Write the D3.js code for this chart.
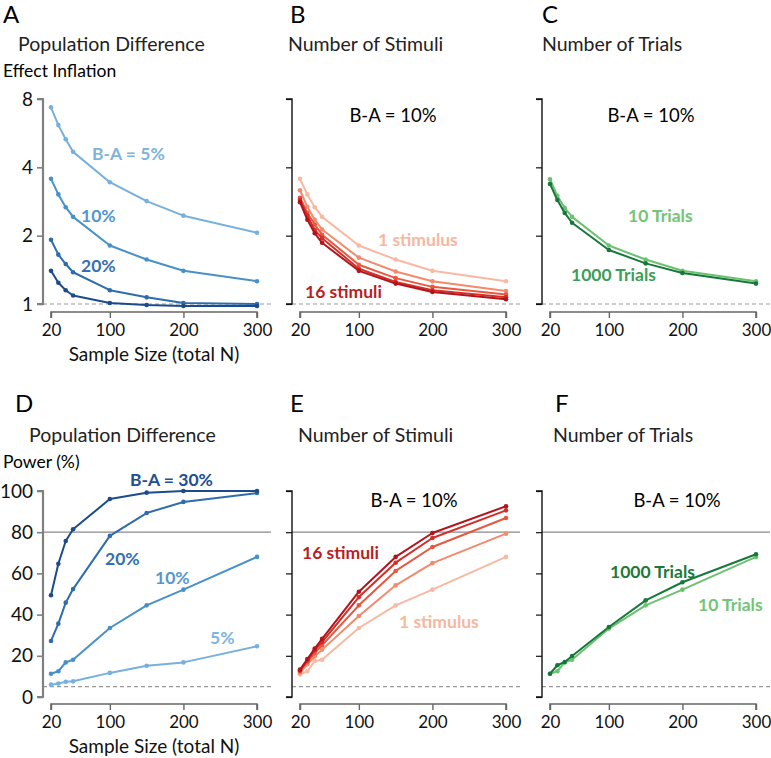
<!DOCTYPE html>
<html>
<head>
<meta charset="utf-8">
<script src="https://cdn.jsdelivr.net/npm/d3@7/dist/d3.min.js"></script>
<style>
  html, body { margin: 0; padding: 0; background: #fff; }
  svg { display: block; font-family: "Lato", "Open Sans", sans-serif; }
</style>
</head>
<body>
<svg id="chart" width="771" height="758"></svg>
<script>
// ---------------- DATA ----------------
const sampleN = [20, 30, 40, 50, 100, 150, 200, 300];
const xTicks = [20, 100, 200, 300];
const inflTicks = [1, 2, 4, 8];
const powerTicks = [0, 20, 40, 60, 80, 100];

// Effect inflation (row 1)
const inflPop5  = [7.35, 6.14, 5.32, 4.68, 3.44, 2.84, 2.45, 2.06];
const inflPop10 = [3.56, 3.04, 2.67, 2.42, 1.81, 1.57, 1.40, 1.26];
const inflPop20 = [1.92, 1.65, 1.50, 1.38, 1.15, 1.07, 1.01, 1.00];
const inflPop30 = [1.40, 1.24, 1.15, 1.09, 1.01, 0.99, 0.98, 0.98];

const inflStim1  = [3.56, 3.04, 2.67, 2.42, 1.81, 1.57, 1.40, 1.26];
const inflStim2  = [3.17, 2.68, 2.35, 2.13, 1.60, 1.39, 1.26, 1.14];
const inflStim4  = [2.94, 2.52, 2.24, 2.02, 1.49, 1.30, 1.19, 1.10];
const inflStim8  = [2.88, 2.45, 2.12, 1.95, 1.43, 1.25, 1.15, 1.07];
const inflStim16 = [2.81, 2.35, 2.05, 1.86, 1.40, 1.23, 1.13, 1.05];

const inflTrials10   = [3.54, 3.00, 2.65, 2.42, 1.81, 1.57, 1.40, 1.26];
const inflTrials1000 = [3.38, 2.87, 2.52, 2.28, 1.73, 1.51, 1.37, 1.23];

// Power (row 2)
const powerPop30 = [49.4, 64.7, 75.7, 81.4, 96.1, 99.2, 100, 100];
const powerPop20 = [27.2, 35.6, 45.8, 52.4, 78.2, 89.3, 94.7, 99.0];
const powerPop10 = [11.3, 12.5, 16.8, 18.1, 33.5, 44.5, 52.1, 68.0];
const powerPop5  = [6.0, 6.5, 7.4, 7.6, 11.7, 15.2, 16.8, 24.6];

const powerStim1  = [11.0, 12.5, 17.5, 18.1, 33.5, 44.5, 52.1, 68.0];
const powerStim2  = [11.8, 15.9, 19.7, 23.0, 39.3, 54.2, 65.0, 79.3];
const powerStim4  = [12.5, 17.0, 21.4, 25.1, 44.5, 61.2, 72.8, 86.9];
const powerStim8  = [12.9, 17.8, 22.7, 26.7, 48.5, 65.2, 77.2, 90.6];
const powerStim16 = [13.3, 18.4, 23.5, 28.2, 51.1, 68.0, 79.6, 92.6];

const powerTrials10   = [11.3, 12.5, 16.8, 18.1, 33.2, 44.5, 52.1, 68.0];
const powerTrials1000 = [11.3, 15.4, 17.0, 19.9, 34.0, 46.9, 55.7, 69.3];

// ---------------- STYLE ----------------
const blue = { b30: "#1b4b8c", b20: "#2e6cae", b10: "#4790c9", b5: "#76b0dc" };
const red = { r16: "#b3141c", r8: "#d32f28", r4: "#e8583f", r2: "#f28a6d", r1: "#f8b9a2" };
const green = { g1000: "#16783a", g10: "#6dc070" };

const svg = d3.select("#chart");
const rows = [
  { yTop: 99, yBot: 304, xAxisY: 312, tickLabY: 330, axisTitleY: 354, titleY: 44, letterY: 15,
    scale: () => d3.scaleLog().base(2).domain([1, 8]), ticks: inflTicks, ref: [{ v: 1, dash: true }] },
  { yTop: 491, yBot: 697, xAxisY: 704, tickLabY: 722, axisTitleY: 746, titleY: 435, letterY: 404,
    scale: () => d3.scaleLinear().domain([0, 100]), ticks: powerTicks, ref: [{ v: 5, dash: true }, { v: 80, dash: false }] }
];

const panels = [
  { row: 0, off: 0, letter: "A", letterX: 3, title: "Population Difference", titleX: 18, yTitle: "Effect Inflation",
    main: true, series: [
      { v: inflPop5, c: blue.b5 }, { v: inflPop10, c: blue.b10 }, { v: inflPop20, c: blue.b20 }, { v: inflPop30, c: blue.b30 }],
    labels: [
      { t: "B-A = 5%", x: 92, y: 154, c: "#7db3dd", bold: true },
      { t: "10%", x: 81, y: 216, c: "#5196cd", bold: true },
      { t: "20%", x: 81, y: 266, c: "#3570b3", bold: true }] },
  { row: 0, off: 249, letter: "B", letterX: 290, title: "Number of Stimuli", titleX: 288, main: false,
    series: [
      { v: inflStim1, c: red.r1 }, { v: inflStim2, c: red.r2 }, { v: inflStim4, c: red.r4 }, { v: inflStim8, c: red.r8 }, { v: inflStim16, c: red.r16 }],
    labels: [
      { t: "B-A = 10%", x: 393, y: 116, c: "#000", anchor: "middle" },
      { t: "1 stimulus", x: 378, y: 240, c: "#f6b79f", bold: true },
      { t: "16 stimuli", x: 305, y: 292, c: "#b81d24", bold: true }] },
  { row: 0, off: 499, letter: "C", letterX: 542, title: "Number of Trials", titleX: 542, main: false,
    series: [{ v: inflTrials10, c: green.g10 }, { v: inflTrials1000, c: green.g1000 }],
    labels: [
      { t: "B-A = 10%", x: 651, y: 116, c: "#000", anchor: "middle" },
      { t: "10 Trials", x: 628, y: 216, c: "#74c476", bold: true },
      { t: "1000 Trials", x: 571, y: 275, c: "#3c9e58", bold: true }] },
  { row: 1, off: 0, letter: "D", letterX: 15, title: "Population Difference", titleX: 29, yTitle: "Power (%)",
    main: true, series: [
      { v: powerPop5, c: blue.b5 }, { v: powerPop10, c: blue.b10 }, { v: powerPop20, c: blue.b20 }, { v: powerPop30, c: blue.b30 }],
    labels: [
      { t: "B-A = 30%", x: 130, y: 480, c: "#224e93", bold: true },
      { t: "20%", x: 105, y: 559, c: "#3370b3", bold: true },
      { t: "10%", x: 155, y: 578, c: "#5597cf", bold: true },
      { t: "5%", x: 210, y: 638, c: "#7fb4de", bold: true }] },
  { row: 1, off: 249, letter: "E", letterX: 290, title: "Number of Stimuli", titleX: 298, main: false,
    series: [
      { v: powerStim1, c: red.r1 }, { v: powerStim2, c: red.r2 }, { v: powerStim4, c: red.r4 }, { v: powerStim8, c: red.r8 }, { v: powerStim16, c: red.r16 }],
    labels: [
      { t: "B-A = 10%", x: 414, y: 501, c: "#000", anchor: "middle" },
      { t: "16 stimuli", x: 302, y: 553, c: "#b81d24", bold: true },
      { t: "1 stimulus", x: 399, y: 622, c: "#f6b79f", bold: true }] },
  { row: 1, off: 499, letter: "F", letterX: 555, title: "Number of Trials", titleX: 553, main: false,
    series: [{ v: powerTrials10, c: green.g10 }, { v: powerTrials1000, c: green.g1000 }],
    labels: [
      { t: "B-A = 10%", x: 677, y: 501, c: "#000", anchor: "middle" },
      { t: "1000 Trials", x: 610, y: 572, c: "#1b7a3a", bold: true },
      { t: "10 Trials", x: 698, y: 605, c: "#74c476", bold: true }] }
];

panels.forEach(p => {
  const r = rows[p.row];
  const g = svg.append("g");
  const x = d3.scaleLinear().domain([20, 300]).range([51 + p.off, 257 + p.off]);
  const y = r.scale().range([r.yBot, r.yTop]);
  const axisX = 43 + p.off;

  // panel letter and title
  g.append("text").attr("x", p.letterX).attr("y", r.letterY).attr("dy", "0.35em")
    .attr("font-size", 24).attr("fill", "#000").text(p.letter);
  g.append("text").attr("x", p.titleX).attr("y", r.titleY).attr("dy", "0.35em")
    .attr("font-size", 19.5).attr("fill", "#222").text(p.title);
  if (p.yTitle) {
    g.append("text").attr("x", 3).attr("y", r.titleY + 27).attr("dy", "0.35em")
      .attr("font-size", 17.5).attr("fill", "#000").text(p.yTitle);
  }

  // reference lines
  r.ref.forEach(rf => {
    g.append("line").attr("x1", axisX).attr("x2", x(300) + 14)
      .attr("y1", y(rf.v)).attr("y2", y(rf.v))
      .attr("stroke", rf.dash ? "#999" : "#8a8a8a").attr("stroke-width", 1.2)
      .attr("stroke-dasharray", rf.dash ? "4,3" : null);
  });

  // y axis
  const yAxis = d3.axisLeft(y).tickValues(r.ticks).tickSize(6).tickPadding(4)
    .tickFormat(p.main ? d3.format("d") : () => "");
  const ya = g.append("g").attr("transform", `translate(${axisX},0)`).call(yAxis);
  const axCol = p.main ? "#808080" : "#111";
  ya.select(".domain").attr("stroke", axCol).attr("stroke-width", p.main ? 2.2 : 1.4)
    .attr("d", `M-6,${r.yTop}H0V${r.yBot}H-6`);
  ya.selectAll(".tick line").attr("stroke", axCol).attr("stroke-width", p.main ? 1.6 : 1.2);
  ya.selectAll(".tick text").attr("font-size", 19).attr("fill", "#111").attr("font-family", "Lato");

  // x axis
  const xAxis = d3.axisBottom(x).tickValues(xTicks).tickSize(6).tickPadding(4).tickFormat(d3.format("d"));
  const xa = g.append("g").attr("transform", `translate(0,${r.xAxisY})`).call(xAxis);
  xa.select(".domain").attr("stroke", "#666").attr("stroke-width", 1.6)
    .attr("d", `M${x(20)},6V0H${x(300)}V6`);
  xa.selectAll(".tick line").attr("stroke", "#666").attr("stroke-width", 1.4);
  xa.selectAll(".tick text").attr("font-size", 17).attr("fill", "#111").attr("font-family", "Lato")
    .attr("y", r.tickLabY - r.xAxisY).attr("dy", "0.35em");
  if (p.main) {
    g.append("text").attr("x", (x(20) + x(300)) / 2).attr("y", r.axisTitleY).attr("dy", "0.35em")
      .attr("text-anchor", "middle").attr("font-size", 19).attr("fill", "#111").text("Sample Size (total N)");
  }

  // series
  const line = d3.line().x((d, i) => x(sampleN[i])).y(d => y(d));
  p.series.forEach(s => {
    g.append("path").datum(s.v).attr("d", line).attr("fill", "none")
      .attr("stroke", s.c).attr("stroke-width", 2).attr("stroke-linejoin", "round");
    g.selectAll(null).data(s.v).enter().append("circle")
      .attr("cx", (d, i) => x(sampleN[i])).attr("cy", d => y(d)).attr("r", 2.3).attr("fill", s.c);
  });

  // labels
  p.labels.forEach(l => {
    g.append("text").attr("x", l.x).attr("y", l.y).attr("dy", "0.35em")
      .attr("text-anchor", l.anchor || "start")
      .attr("font-size", l.bold ? 17.5 : 18.5).attr("font-weight", l.bold ? 700 : 400)
      .attr("fill", l.c).text(l.t);
  });
});
</script>
</body>
</html>
